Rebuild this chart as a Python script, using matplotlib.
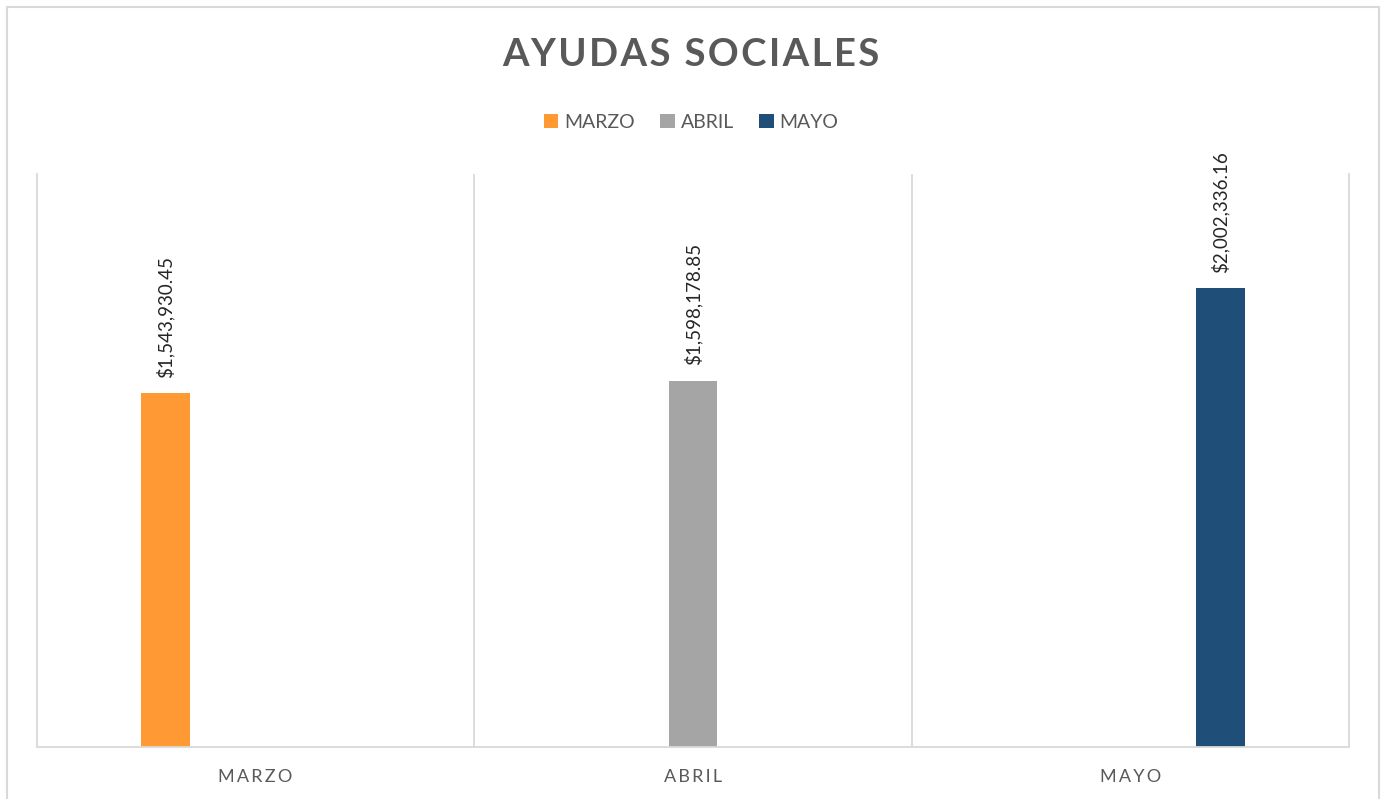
import matplotlib.pyplot as plt
from matplotlib.patches import Rectangle

categories = ['MARZO', 'ABRIL', 'MAYO']
series_names = ['MARZO', 'ABRIL', 'MAYO']
marzo = [1543930.45, 0, 0]
abril = [0, 1598178.85, 0]
mayo = [0, 0, 2002336.16]
colors = ['#FF9933', '#A5A5A5', '#1F4E79']

plt.rcParams['font.family'] = ['Lato', 'DejaVu Sans']

fig = plt.figure(figsize=(13.82, 7.99), dpi=100)
ax = fig.add_axes([37 / 1382, 52 / 799, 1312 / 1382, 573 / 799])

width = 0.112
offsets = [-0.206, 0, 0.206]
x = list(range(len(categories)))
for name, vals, off, c in zip(series_names, [marzo, abril, mayo], offsets, colors):
    bars = ax.bar([i + off for i in x], vals, width=width, color=c, label=name)
    for b, v in zip(bars, vals):
        if v > 0:
            ax.annotate(f'${v:,.2f}', (b.get_x() + b.get_width() / 2, v),
                        xytext=(0, 11), textcoords='offset points',
                        rotation=90, ha='center', va='bottom',
                        fontsize=13.5, color='#262626')

ax.set_xlim(-0.5, 2.5)
ax.set_ylim(0, 2500000)
ax.set_yticks([])
ax.set_xticks(x)
ax.set_xticklabels(['\u2009'.join(c) for c in categories], fontsize=13, color='#595959')
ax.tick_params(axis='x', length=0, pad=16)
for b in [0.5, 1.5]:
    ax.axvline(b, color='#D9D9D9', lw=1.3)
for s in ['left', 'right', 'bottom']:
    ax.spines[s].set_color('#D9D9D9')
    ax.spines[s].set_linewidth(1.3)
ax.spines['top'].set_visible(False)

fig.text(0.5, 1 - 55 / 799, '\u200a'.join('AYUDAS SOCIALES'), ha='center', va='center',
         fontsize=27.5, fontweight='bold', color='#595959')
fig.legend(loc='center', bbox_to_anchor=(0.5, 1 - 122 / 799), ncol=3, frameon=False,
           fontsize=14, handlelength=0.75, handleheight=0.75, handletextpad=0.3,
           columnspacing=1.3, labelcolor='#595959')

fig.patches.append(Rectangle((7 / 1382, -0.1), 1372 / 1382, 1.1 - 7 / 799,
                             transform=fig.transFigure, fill=False,
                             edgecolor='#D9D9D9', lw=1.5))

fig.savefig('out.png', dpi=100)
